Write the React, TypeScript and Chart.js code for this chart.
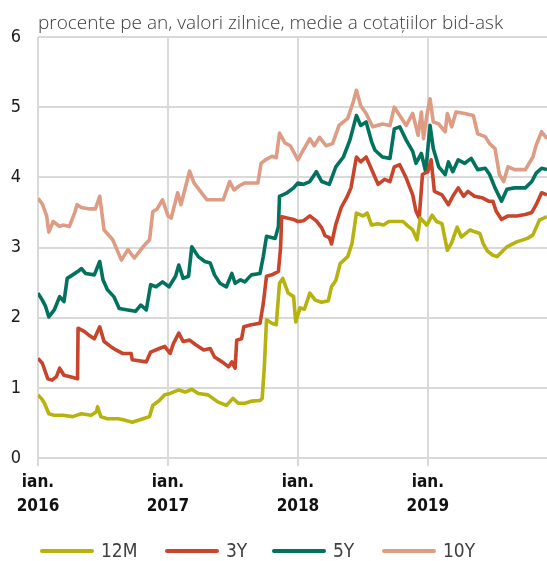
import React, { useEffect, useRef } from 'react';
import { Chart, registerables } from 'chart.js';

Chart.register(...registerables);

const titleText = 'procente pe an, valori zilnice, medie a cotațiilor bid-ask';
const seriesNames = ['12M', '3Y', '5Y', '10Y'];
const seriesColors = ['#b6b20e', '#c8452c', '#00725e', '#dd9c83'];
const monthLabel = 'ian.';
const yearLabels = ['2016', '2017', '2018', '2019'];
const yearTickMonths = [0, 12, 24, 36]; // months since ian. 2016
const xMaxMonth = 47;
const yMin = 0;
const yMax = 6;

const months12M = [0, 0.3, 0.6, 1.0, 1.5, 2.3, 3.2, 4.0, 4.9, 5.4, 5.5, 5.8, 6.4, 7.4, 8.0, 8.7, 9.7, 10.3, 10.6, 11.2, 11.7, 12.2, 13.0, 13.6, 14.2, 14.8, 15.7, 16.6, 17.4, 18.0, 18.5, 19.1, 19.7, 20.5, 20.7, 20.9, 21.1, 21.6, 22.0, 22.3, 22.6, 23.1, 23.6, 23.8, 24.2, 24.6, 25.1, 25.6, 26.2, 26.8, 27.1, 27.5, 27.9, 28.6, 29.0, 29.4, 30.0, 30.4, 30.8, 31.4, 31.9, 32.4, 32.8, 33.7, 34.2, 34.6, 35.0, 35.3, 35.9, 36.4, 36.8, 37.3, 37.8, 38.2, 38.7, 39.1, 39.9, 40.4, 40.8, 41.1, 41.5, 42.0, 42.4, 42.9, 43.3, 44.2, 45.2, 45.7, 46.3, 47];
const values12M = [0.90, 0.85, 0.78, 0.63, 0.61, 0.61, 0.59, 0.63, 0.61, 0.66, 0.73, 0.59, 0.56, 0.56, 0.54, 0.51, 0.56, 0.59, 0.75, 0.82, 0.90, 0.92, 0.97, 0.94, 0.98, 0.92, 0.90, 0.80, 0.75, 0.85, 0.78, 0.78, 0.81, 0.82, 0.85, 1.30, 1.97, 1.92, 1.90, 2.49, 2.56, 2.35, 2.30, 1.94, 2.14, 2.12, 2.35, 2.25, 2.22, 2.24, 2.44, 2.53, 2.77, 2.87, 3.06, 3.49, 3.45, 3.49, 3.32, 3.34, 3.32, 3.37, 3.37, 3.37, 3.30, 3.25, 3.11, 3.42, 3.32, 3.46, 3.37, 3.34, 2.96, 3.07, 3.29, 3.15, 3.25, 3.22, 3.20, 3.06, 2.95, 2.89, 2.87, 2.95, 3.01, 3.08, 3.13, 3.18, 3.39, 3.44];

const months3Y = [0, 0.4, 0.9, 1.3, 1.7, 2.0, 2.4, 2.9, 3.65, 3.7, 4.3, 4.7, 5.2, 5.7, 6.1, 6.7, 7.2, 7.8, 8.6, 8.7, 10.0, 10.4, 11.2, 11.7, 12.2, 12.5, 13.0, 13.4, 14.0, 14.6, 15.3, 15.9, 16.3, 17.0, 17.6, 17.9, 18.2, 18.35, 18.8, 19.0, 19.7, 20.5, 20.8, 21.1, 21.6, 22.2, 22.4, 22.5, 23.0, 23.6, 24.0, 24.5, 25.1, 25.7, 26.2, 26.5, 26.9, 27.1, 27.5, 28.0, 28.5, 28.9, 29.4, 29.8, 30.3, 30.9, 31.4, 32.0, 32.5, 32.9, 33.4, 34.0, 34.6, 34.9, 35.2, 35.5, 36.0, 36.3, 36.6, 37.3, 37.9, 38.3, 38.8, 39.3, 39.7, 40.3, 41.0, 41.6, 42.0, 42.3, 42.8, 43.4, 44.2, 45.0, 45.6, 46.0, 46.5, 47];
const values3Y = [1.42, 1.35, 1.13, 1.11, 1.16, 1.28, 1.18, 1.16, 1.13, 1.85, 1.80, 1.75, 1.70, 1.87, 1.66, 1.59, 1.54, 1.49, 1.49, 1.40, 1.37, 1.51, 1.56, 1.59, 1.49, 1.63, 1.78, 1.66, 1.68, 1.61, 1.54, 1.56, 1.44, 1.37, 1.30, 1.37, 1.28, 1.68, 1.70, 1.87, 1.90, 1.92, 2.20, 2.59, 2.61, 2.66, 3.00, 3.44, 3.42, 3.40, 3.37, 3.38, 3.45, 3.38, 3.28, 3.17, 3.14, 3.05, 3.33, 3.57, 3.71, 3.85, 4.29, 4.22, 4.29, 4.08, 3.90, 3.97, 3.94, 4.15, 4.18, 3.99, 3.75, 3.52, 3.42, 4.04, 4.08, 4.25, 3.80, 3.75, 3.61, 3.73, 3.85, 3.73, 3.80, 3.73, 3.71, 3.66, 3.66, 3.52, 3.40, 3.45, 3.45, 3.47, 3.50, 3.61, 3.78, 3.75];

const months5Y = [0, 0.4, 0.7, 1.0, 1.5, 2.0, 2.4, 2.7, 3.2, 3.7, 4.0, 4.4, 5.2, 5.7, 6.0, 6.4, 7.0, 7.5, 8.3, 9.0, 9.5, 10.0, 10.4, 10.9, 11.5, 12.1, 12.7, 13.0, 13.4, 13.9, 14.2, 14.8, 15.4, 15.9, 16.3, 16.8, 17.4, 17.9, 18.2, 18.7, 19.1, 19.7, 20.5, 20.8, 21.1, 21.9, 22.2, 22.3, 23.0, 23.6, 24.0, 24.5, 25.1, 25.7, 26.2, 26.9, 27.5, 28.2, 28.8, 29.4, 29.8, 30.3, 30.8, 31.1, 31.8, 32.5, 32.9, 33.4, 34.0, 34.6, 34.9, 35.4, 35.8, 36.2, 36.5, 37.0, 37.6, 37.9, 38.3, 38.8, 39.4, 40.0, 40.6, 41.3, 41.7, 42.2, 42.8, 43.3, 44.0, 45.0, 45.6, 46.0, 46.5, 47];
const values5Y = [2.35, 2.25, 2.16, 2.01, 2.11, 2.30, 2.23, 2.56, 2.61, 2.66, 2.70, 2.63, 2.61, 2.80, 2.54, 2.40, 2.30, 2.13, 2.11, 2.09, 2.18, 2.11, 2.47, 2.44, 2.51, 2.44, 2.59, 2.75, 2.56, 2.59, 3.01, 2.87, 2.80, 2.78, 2.61, 2.49, 2.44, 2.63, 2.49, 2.54, 2.51, 2.61, 2.63, 2.87, 3.16, 3.13, 3.30, 3.73, 3.78, 3.85, 3.92, 3.90, 3.94, 4.08, 3.94, 3.90, 4.15, 4.29, 4.53, 4.88, 4.74, 4.79, 4.51, 4.39, 4.29, 4.27, 4.69, 4.72, 4.53, 4.37, 4.20, 4.34, 4.08, 4.74, 4.41, 4.15, 4.04, 4.22, 4.08, 4.25, 4.20, 4.27, 4.11, 4.13, 4.04, 3.85, 3.66, 3.83, 3.85, 3.85, 3.94, 4.06, 4.13, 4.11];

const months10Y = [0, 0.4, 0.8, 1.0, 1.4, 2.0, 2.3, 2.9, 3.4, 3.6, 4.0, 4.8, 5.3, 5.7, 6.1, 6.9, 7.7, 8.3, 8.9, 9.7, 10.3, 10.6, 11.0, 11.5, 12.0, 12.3, 12.9, 13.2, 14.0, 14.4, 15.0, 15.6, 16.3, 17.1, 17.7, 18.1, 18.6, 19.1, 20.3, 20.6, 21.0, 21.6, 22.0, 22.3, 22.8, 23.3, 24.0, 24.5, 25.1, 25.5, 26.0, 26.6, 27.2, 27.8, 28.6, 29.1, 29.4, 29.8, 30.3, 30.9, 31.8, 32.5, 32.9, 33.4, 34.0, 34.6, 35.1, 35.4, 35.6, 35.9, 36.2, 36.5, 37.0, 37.6, 37.8, 38.2, 38.6, 39.4, 40.2, 40.6, 41.3, 41.7, 42.2, 42.6, 43.0, 43.4, 44.0, 45.0, 45.7, 46.0, 46.5, 47];
const values10Y = [3.70, 3.62, 3.45, 3.22, 3.37, 3.30, 3.32, 3.30, 3.50, 3.61, 3.57, 3.55, 3.55, 3.73, 3.25, 3.11, 2.82, 2.97, 2.85, 3.01, 3.11, 3.51, 3.55, 3.68, 3.45, 3.42, 3.78, 3.61, 4.09, 3.92, 3.80, 3.68, 3.68, 3.68, 3.94, 3.82, 3.88, 3.92, 3.92, 4.20, 4.25, 4.30, 4.28, 4.63, 4.49, 4.45, 4.25, 4.39, 4.55, 4.45, 4.57, 4.45, 4.48, 4.74, 4.84, 5.07, 5.24, 5.02, 4.91, 4.72, 4.76, 4.74, 5.00, 4.88, 4.74, 4.91, 4.60, 4.93, 4.55, 4.88, 5.12, 4.79, 4.76, 4.65, 4.91, 4.72, 4.93, 4.91, 4.88, 4.62, 4.58, 4.48, 4.41, 4.04, 3.94, 4.15, 4.11, 4.11, 4.29, 4.46, 4.65, 4.55];

const seriesMonths = [months12M, months3Y, months5Y, months10Y];
const seriesValues = [values12M, values3Y, values5Y, values10Y];

const narrow = "'Liberation Sans Narrow', 'DejaVu Sans Condensed', sans-serif";

const overlayPlugin = {
  id: 'overlay',
  afterDraw(chart: any) {
    const ctx = chart.ctx;
    const left = chart.chartArea.left;
    ctx.save();
    // title
    ctx.fillStyle = '#3b3b3b';
    ctx.font = "300 19px 'Open Sans', sans-serif";
    ctx.textBaseline = 'alphabetic';
    ctx.textAlign = 'left';
    ctx.fillText(titleText, left, 29);
    // legend
    const legendX = [40, 165, 272, 382];
    const legendY = 551;
    ctx.lineCap = 'round';
    ctx.lineWidth = 4;
    ctx.font = `19px ${narrow}`;
    ctx.textBaseline = 'middle';
    seriesNames.forEach((name, i) => {
      ctx.strokeStyle = seriesColors[i];
      ctx.beginPath();
      ctx.moveTo(legendX[i] + 2, legendY);
      ctx.lineTo(legendX[i] + 52, legendY);
      ctx.stroke();
      ctx.fillStyle = '#404040';
      ctx.fillText(name, legendX[i] + 61, legendY + 1);
    });
    ctx.restore();
  },
};

export default function App() {
  const canvasRef = useRef<HTMLCanvasElement | null>(null);

  useEffect(() => {
    if (!canvasRef.current) return;
    const datasets = seriesNames.map((name, i) => ({
      label: name,
      data: seriesMonths[i].map((m, j) => ({ x: m, y: seriesValues[i][j] })),
      borderColor: seriesColors[i],
      backgroundColor: seriesColors[i],
      borderWidth: 3.6,
      pointRadius: 0,
      tension: 0,
      borderJoinStyle: 'round' as const,
      fill: false,
    }));
    const chart = new Chart(canvasRef.current, {
      type: 'line',
      data: { datasets },
      options: {
        animation: false,
        responsive: false,
        devicePixelRatio: 1,
        layout: { padding: { top: 37, right: 0, left: 0, bottom: 0 } },
        plugins: {
          legend: { display: false },
          title: { display: false },
          tooltip: { enabled: false },
        },
        scales: {
          x: {
            type: 'linear',
            min: 0,
            max: xMaxMonth,
            afterBuildTicks: (scale: any) => {
              scale.ticks = yearTickMonths.map((v) => ({ value: v }));
            },
            afterFit: (scale: any) => {
              scale.height = 103;
            },
            ticks: {
              autoSkip: false,
              maxRotation: 0,
              padding: 4,
              color: '#111111',
              font: { family: narrow, size: 17, weight: 'bold', lineHeight: 1.45 },
              callback: (v: any) => [monthLabel, yearLabels[yearTickMonths.indexOf(Number(v))]],
            },
            grid: { color: '#d9d9d9', lineWidth: 2, tickLength: 8, drawTicks: true },
            border: { display: false },
          },
          y: {
            min: yMin,
            max: yMax,
            afterFit: (scale: any) => {
              scale.width = 38;
            },
            ticks: {
              stepSize: 1,
              padding: 17,
              color: '#1a1a1a',
              font: { family: narrow, size: 18 },
            },
            grid: { color: '#d9d9d9', lineWidth: 2, drawTicks: false },
            border: { display: false },
          },
        },
      },
      plugins: [overlayPlugin],
    });
    return () => chart.destroy();
  }, []);

  return (
    <div style={{ position: 'absolute', left: 0, top: 0, width: 547, height: 561, background: '#fff' }}>
      <canvas ref={canvasRef} width={547} height={561} style={{ display: 'block' }} />
    </div>
  );
}
